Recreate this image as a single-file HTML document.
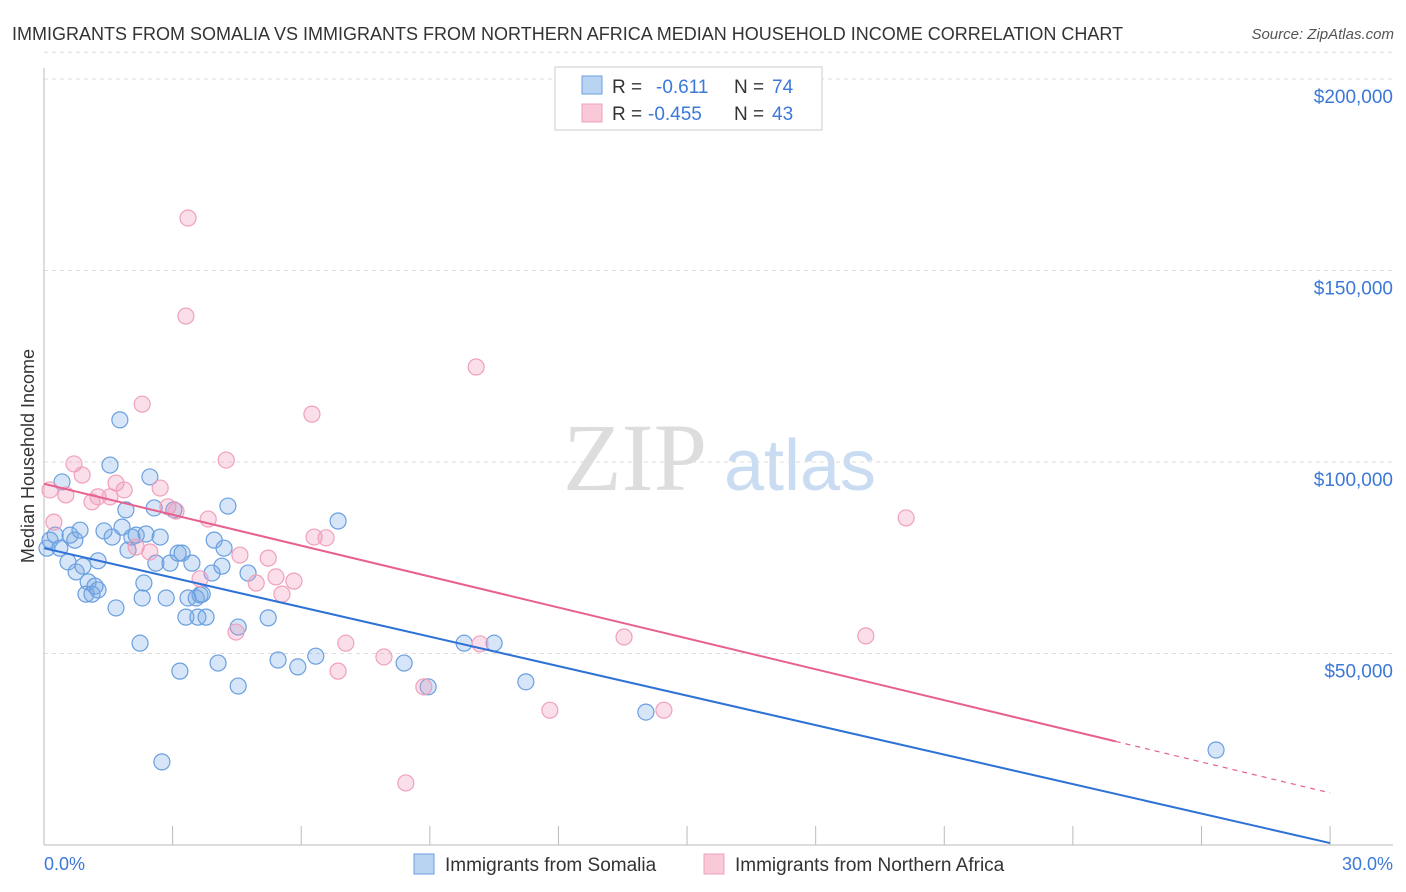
<!DOCTYPE html>
<html><head><meta charset="utf-8"><style>
body{margin:0;background:#fff;font-family:"Liberation Sans",sans-serif;}
svg{display:block}
</style></head><body>
<svg id="chart" width="1406" height="892" xmlns="http://www.w3.org/2000/svg">
<text x="12" y="40" font-size="18" fill="#333">IMMIGRANTS FROM SOMALIA VS IMMIGRANTS FROM NORTHERN AFRICA MEDIAN HOUSEHOLD INCOME CORRELATION CHART</text>
<text x="1394" y="39" font-size="15" fill="#555" text-anchor="end" font-style="italic">Source: ZipAtlas.com</text>
<g>
<text x="635" y="490" font-size="96" fill="#ddd" text-anchor="middle" font-family="Liberation Serif,serif">ZIP</text>
<text x="800" y="490" font-size="72" fill="#c9dcf2" text-anchor="middle">atlas</text>
</g>
<g id="grid"></g>
<g id="axes"></g>
<g id="marks"></g>
<g>
<rect x="555" y="67" width="267" height="63" fill="#fff" stroke="#ccc"/>
<rect x="582" y="76" width="20" height="18" fill="#b9d3f3" stroke="#6a9fe0"/>
<rect x="582" y="104" width="20" height="18" fill="#f9c9d8" stroke="#f0a0bc"/>
<text x="612" y="93" font-size="19" fill="#333">R = </text>
<text x="656" y="93" font-size="19" fill="#3b78d8">-0.611</text>
<text x="734" y="93" font-size="19" fill="#333">N = </text>
<text x="772" y="93" font-size="19" fill="#3b78d8">74</text>
<text x="612" y="120" font-size="19" fill="#333">R = </text>
<text x="648" y="120" font-size="19" fill="#3b78d8">-0.455</text>
<text x="734" y="120" font-size="19" fill="#333">N = </text>
<text x="772" y="120" font-size="19" fill="#3b78d8">43</text>
</g>
<text transform="translate(34,456) rotate(-90)" font-size="18" fill="#333" text-anchor="middle">Median Household Income</text>
<text x="44" y="870" font-size="18" fill="#3b78d8">0.0%</text>
<text x="1393" y="870" font-size="18" fill="#3b78d8" text-anchor="end">30.0%</text>
<g>
<rect x="414" y="854" width="20" height="20" fill="#b9d3f3" stroke="#6a9fe0"/>
<text x="445" y="871" font-size="19" fill="#333">Immigrants from Somalia</text>
<rect x="704" y="854" width="20" height="20" fill="#f9c9d8" stroke="#f0a0bc"/>
<text x="735" y="871" font-size="19" fill="#333">Immigrants from Northern Africa</text>
</g>
</svg>
<script>
const yTicks=[50,100,150,200];
const yTickLabels=["$50,000","$100,000","$150,000","$200,000"];
const xTicks=[0,3,6,9,12,15,18,21,24,27,30];
const somaliaX=[0.07,0.14,0.26,0.42,0.37,0.56,0.61,0.72,0.84,0.75,0.91,1.03,0.98,1.12,1.19,1.26,1.26,1.40,1.54,1.59,1.68,1.77,1.82,1.91,1.96,2.05,2.15,2.24,2.29,2.33,2.38,2.47,2.57,2.61,2.71,2.75,2.85,2.94,3.03,3.13,3.17,3.22,3.31,3.36,3.45,3.55,3.59,3.64,3.69,3.78,3.92,3.97,4.06,4.15,4.20,4.29,4.53,4.53,4.76,5.23,5.46,5.92,6.34,6.86,8.40,8.96,9.80,10.50,11.24,14.04,27.34];
const somaliaY=[77.5,79.6,80.9,94.8,77.5,73.9,80.9,79.6,82.2,71.3,72.8,68.7,65.5,65.5,67.6,66.6,74.2,82.0,99.2,80.4,61.9,111.0,83.0,87.5,77.0,80.4,80.9,52.7,64.5,68.4,81.2,96.1,88.0,73.6,80.4,21.7,64.5,73.6,87.5,76.2,45.4,76.2,59.5,64.5,73.6,64.5,59.5,65.3,65.5,59.5,71.0,79.6,47.5,72.8,77.5,88.5,56.9,41.5,71.0,59.3,48.3,46.5,49.3,84.6,47.5,41.3,52.7,52.7,42.6,34.7,24.8];
const nafricaX=[0.14,0.23,0.51,0.70,0.89,1.12,1.26,1.54,1.68,1.87,2.15,2.29,2.47,2.71,2.89,3.08,3.31,3.36,3.64,3.83,4.25,4.48,4.57,4.95,5.23,5.41,5.55,5.83,6.25,6.30,6.58,6.86,7.04,7.93,8.86,10.08,10.17,11.80,13.53,14.46,8.44,19.17,20.11];
const nafricaY=[92.7,84.3,91.4,99.5,96.6,89.6,90.9,90.9,94.5,92.7,77.8,115.1,76.5,93.2,88.3,87.2,138.1,163.7,69.5,85.1,100.5,55.6,75.7,68.4,74.9,70.0,65.5,68.9,112.5,80.4,80.2,45.4,52.7,49.1,41.3,124.8,52.5,35.2,54.3,35.2,16.2,54.6,85.4];
const somaliaTrend=[77.5,0.5];
const nafricaTrend=[94.3,13.6];
const nafricaSolidEnd=25.0;

const NS="http://www.w3.org/2000/svg";
const X=v=>44+v*42.87;
const Y=v=>845-v*3.83;
function mk(tag,attrs,parent){const e=document.createElementNS(NS,tag);for(const k in attrs)e.setAttribute(k,attrs[k]);parent.appendChild(e);return e;}
const grid=document.getElementById('grid'),axes=document.getElementById('axes'),marks=document.getElementById('marks');
yTicks.forEach((t,i)=>{
 const l=mk('line',{x1:44,x2:1393,y1:Y(t),y2:Y(t),stroke:'#ddd','stroke-dasharray':'4 4'},grid);
 
 
 const tx=mk('text',{x:1393,y:Y(t)+24,'font-size':19,fill:'#3b78d8','text-anchor':'end'},axes);
 tx.textContent=yTickLabels[i];
 
 
});
const tg=mk('line',{x1:44,x2:1393,y1:Y(207),y2:Y(207),stroke:'#ddd','stroke-dasharray':'4 4'},grid);


const ya=mk('line',{x1:44,x2:44,y1:68,y2:845,stroke:'#bbb'},axes);


const xa=mk('line',{x1:44,x2:1393,y1:845,y2:845,stroke:'#bbb'},axes);


xTicks.forEach(t=>{
 const l=mk('line',{x1:X(t),x2:X(t),y1:826,y2:845,stroke:'#bbb'},axes);
 
 
});
function pts(xs,ys,fill,stroke,name){
 xs.forEach((x,i)=>{
  const c=mk('circle',{cx:X(x),cy:Y(ys[i]),r:8,fill:fill,stroke:stroke,'stroke-width':1.2},marks);
  
  
 });
}
pts(somaliaX,somaliaY,'rgba(120,170,230,0.3)','#6a9fe0','somalia-point');
pts(nafricaX,nafricaY,'rgba(240,150,185,0.3)','#f0a0bc','northern-africa-point');
const bl=mk('line',{x1:X(0),y1:Y(somaliaTrend[0]),x2:X(30),y2:Y(somaliaTrend[1]),stroke:'#2f72d6','stroke-width':2},marks);


const pm=nafricaTrend[0]+(nafricaTrend[1]-nafricaTrend[0])*nafricaSolidEnd/30;
const pl=mk('line',{x1:X(0),y1:Y(nafricaTrend[0]),x2:X(nafricaSolidEnd),y2:Y(pm),stroke:'#e8608c','stroke-width':2},marks);


const pd=mk('line',{x1:X(nafricaSolidEnd),y1:Y(pm),x2:X(30),y2:Y(nafricaTrend[1]),stroke:'#e8608c','stroke-width':1.2,'stroke-dasharray':'5 5'},marks);


</script>
</body></html>
